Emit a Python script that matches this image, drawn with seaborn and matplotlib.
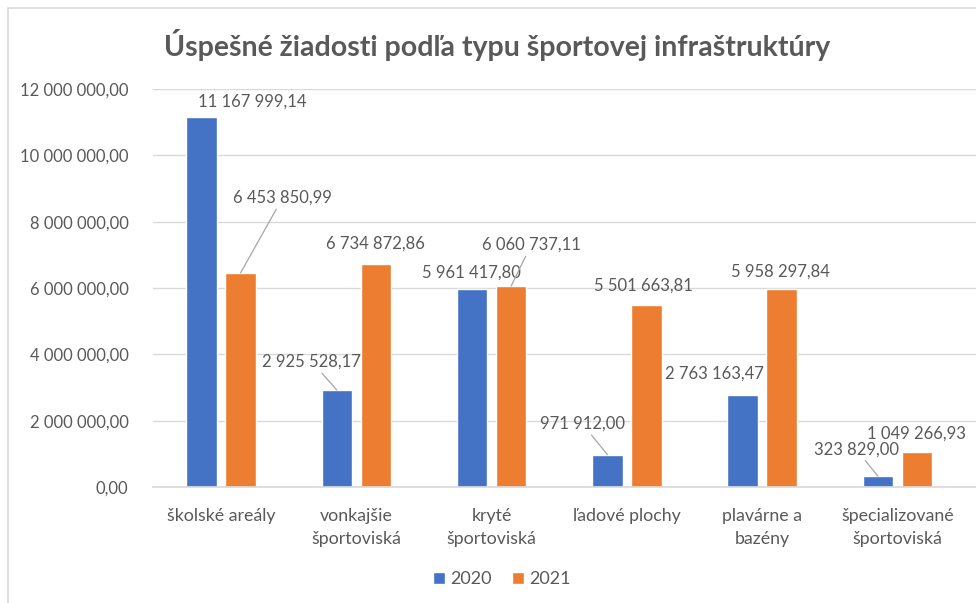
import numpy as np
import pandas as pd
import seaborn as sns
import matplotlib
matplotlib.use("Agg")
from matplotlib import pyplot as plt
from matplotlib.ticker import FuncFormatter
from matplotlib.patches import Rectangle

categories = ["školské areály", "vonkajšie\nšportoviská", "kryté\nšportoviská",
              "ľadové plochy", "plavárne a\nbazény", "špecializované\nšportoviská"]
years = ["2020", "2021"]
values_2020 = [11167999.14, 2925528.17, 5961417.80, 971912.00, 2763163.47, 323829.00]
values_2021 = [6453850.99, 6734872.86, 6060737.11, 5501663.81, 5958297.84, 1049266.93]

# label offsets from bar top (pixels, up positive) and leader line flags
offsets_2020 = [(51, 15), (-25, 28), (-1, 17), (-25, 31), (-28, 22), (-22, 27)]
offsets_2021 = [(42, 75), (0, 20), (20, 41), (-3, 19), (-1, 18), (-1, 19)]
leader_2020 = [False, True, False, True, False, True]
leader_2021 = [True, False, True, False, False, False]

colors = ["#4472C4", "#ED7D31"]
text_col = "#595959"
grid_col = "#D9D9D9"


def fmt(v, pos=None):
    return f"{v:,.2f}".replace(",", " ").replace(".", ",")


df = pd.DataFrame({
    "kategoria": categories * 2,
    "rok": [years[0]] * len(categories) + [years[1]] * len(categories),
    "hodnota": values_2020 + values_2021,
})

sns.set_theme(style="white")
plt.rcParams["font.family"] = ["Lato", "DejaVu Sans"]

fig = plt.figure(figsize=(9.76, 6.03), dpi=100)
ax = fig.add_axes([153.4 / 976, 116 / 603, (976 - 153.4) / 976, 398 / 603])

sns.barplot(data=df, x="kategoria", y="hodnota", hue="rok", palette=colors,
            width=0.577, gap=0.215, saturation=1, ax=ax, legend=True)

ax.set_ylim(0, 12000000)
ax.set_xlim(-0.5, 5.5 + 10.8 / 135.3)
ax.set_yticks(np.arange(0, 12000001, 2000000))
ax.yaxis.set_major_formatter(FuncFormatter(fmt))
ax.grid(axis="y", color=grid_col, linewidth=1)
ax.set_axisbelow(True)
for s in ["top", "right", "left"]:
    ax.spines[s].set_visible(False)
ax.spines["bottom"].set_color(grid_col)
ax.set_xlabel("")
ax.set_ylabel("")
ax.tick_params(axis="y", length=0, pad=18, labelsize=12, labelcolor=text_col)
ax.tick_params(axis="x", length=0, pad=15, labelsize=12.8, labelcolor=text_col)
for lab in ax.get_xticklabels():
    lab.set_linespacing(1.55)

all_offsets = [offsets_2020, offsets_2021]
all_leaders = [leader_2020, leader_2021]
for k, cont in enumerate(ax.containers):
    for j, bar in enumerate(cont):
        x = bar.get_x() + bar.get_width() / 2
        h = bar.get_height()
        dx, dy = all_offsets[k][j]
        arrow = dict(arrowstyle="-", color="#A6A6A6", lw=0.9, shrinkA=0, shrinkB=0) if all_leaders[k][j] else None
        ax.annotate(fmt(h), xy=(x, h), xytext=(dx, dy), textcoords="offset pixels",
                    ha="center", va="center", fontsize=12, color=text_col,
                    arrowprops=arrow, annotation_clip=False)

leg = ax.legend(loc="center", bbox_to_anchor=(502 / 976, 24 / 603), bbox_transform=fig.transFigure,
                ncol=2, frameon=False, fontsize=13, handlelength=0.65, handleheight=0.65,
                handletextpad=0.3, columnspacing=1.1, labelcolor=text_col)

fig.text(497 / 976, 1 - 45 / 603, "Úspešné žiadosti podľa typu športovej infraštruktúry",
         ha="center", va="center", fontsize=20.5, fontweight="bold", color=text_col)

fig.patches.append(Rectangle((8 / 976, -0.1), 1.2, 1 - 8 / 603 + 0.1, transform=fig.transFigure,
                             fill=False, edgecolor=grid_col, linewidth=1.2))

fig.savefig("out.png", dpi=100)
